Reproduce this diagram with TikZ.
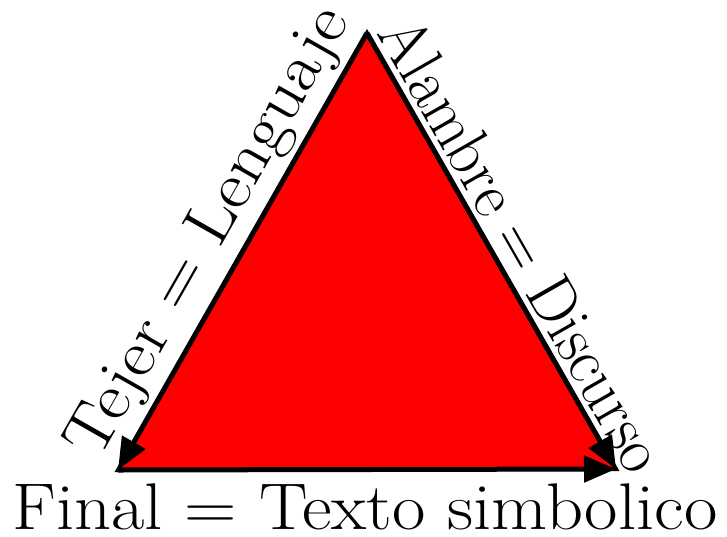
\documentclass[tikz,border=0pt]{standalone}
\usetikzlibrary{arrows.meta}

\begin{document}
\begin{tikzpicture}[
    x=1pt, y=-1pt,
    tri/.style={fill=red, draw=black, line width=4pt, line join=miter},
    arr/.style={-{Triangle[length=32pt, width=26pt]}, line width=5pt},
    lbl/.style={font=\fontsize{66}{68}\selectfont, inner sep=5pt}
]
\useasboundingbox (0,0) rectangle (727,536);
\coordinate (top) at (367,33);
\coordinate (left) at (118,470);
\coordinate (right) at (616,469);
\filldraw[tri] (top) -- (left) -- (right) -- cycle;
\draw[arr] (top) -- node[lbl, above, sloped] (tejer) {\scalebox{1.1}[1]{Tejer = Lenguaje}} (left);
\draw[arr] (top) -- node[lbl, above, sloped, pos=0.52] (alambre) {\scalebox{0.95}[1]{Alambre = Discurso}} (right);
\draw[arr] (left) -- (right);
\node[lbl, anchor=base, inner sep=0pt] (final) at (365,529) {\scalebox{1.1}[1]{Final = Texto simbolico}};
\end{tikzpicture}
\end{document}
